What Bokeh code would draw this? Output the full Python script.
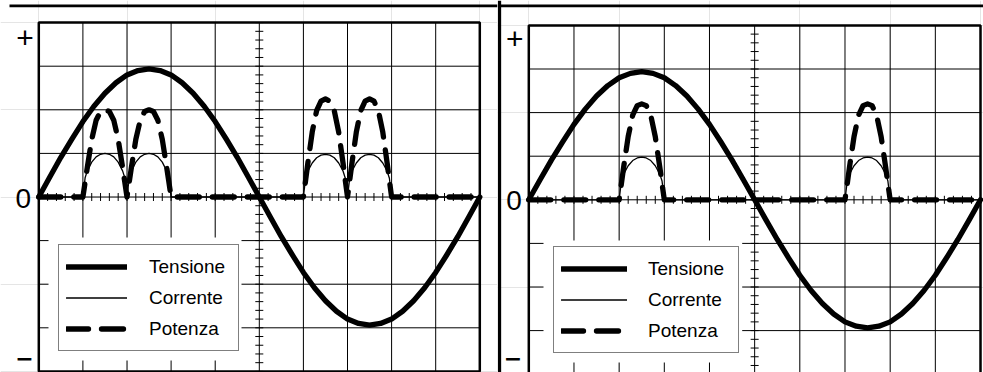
import numpy as np
from bokeh.plotting import figure
from bokeh.models import Legend, LegendItem, BoxAnnotation, Label, Span
from bokeh.layouts import row
from bokeh.embed import file_html
from bokeh.resources import INLINE

# ---------------- data (units: oscilloscope grid divisions) ----------------
T_TENSIONE = [0, 0.25, 0.5, 0.75, 1, 1.25, 1.5, 1.75, 2, 2.25, 2.5, 2.75, 3, 3.25,
              3.5, 3.75, 4, 4.25, 4.5, 4.75, 5, 5.25, 5.5, 5.75, 6, 6.25, 6.5, 6.75,
              7, 7.25, 7.5, 7.75, 8, 8.25, 8.5, 8.75, 9, 9.25, 9.5, 9.75, 10]
V_TENSIONE = [0.00, 0.46, 0.91, 1.33, 1.73, 2.08, 2.38, 2.62, 2.80, 2.90, 2.94,
              2.90, 2.80, 2.62, 2.38, 2.08, 1.73, 1.33, 0.91, 0.46, 0.00,
              -0.46, -0.91, -1.33, -1.73, -2.08, -2.38, -2.62, -2.80, -2.90, -2.94,
              -2.90, -2.80, -2.62, -2.38, -2.08, -1.73, -1.33, -0.91, -0.46, 0.00]

# left panel: current / power
T_SX = [0, 1,
        1.05, 1.1, 1.2, 1.3, 1.4, 1.5, 1.6, 1.7, 1.8, 1.9, 1.95, 2,
        2.05, 2.1, 2.2, 2.3, 2.4, 2.5, 2.6, 2.7, 2.8, 2.9, 2.95, 3,
        6,
        6.05, 6.1, 6.2, 6.3, 6.4, 6.5, 6.6, 6.7, 6.8, 6.9, 6.95, 7,
        7.05, 7.1, 7.2, 7.3, 7.4, 7.5, 7.6, 7.7, 7.8, 7.9, 7.95, 8,
        10]
I_SX = [0, 0,
        0.44, 0.60, 0.80, 0.92, 0.98, 1.00, 0.98, 0.92, 0.80, 0.60, 0.44, 0.00,
        0.44, 0.60, 0.80, 0.92, 0.98, 1.00, 0.98, 0.92, 0.80, 0.60, 0.44, 0.00,
        0,
        0.43, 0.59, 0.78, 0.90, 0.96, 0.98, 0.96, 0.90, 0.78, 0.59, 0.43, 0.00,
        0.43, 0.59, 0.78, 0.90, 0.96, 0.98, 0.96, 0.90, 0.78, 0.59, 0.43, 0.00,
        0]
P_SX = [0, 0,
        0.34, 0.68, 1.32, 1.76, 1.96, 2.00, 1.96, 1.76, 1.32, 0.68, 0.34, 0.00,
        0.34, 0.68, 1.32, 1.76, 1.96, 2.00, 1.96, 1.76, 1.32, 0.68, 0.34, 0.00,
        0,
        0.38, 0.77, 1.49, 1.98, 2.20, 2.25, 2.20, 1.98, 1.49, 0.77, 0.38, 0.00,
        0.38, 0.77, 1.49, 1.98, 2.20, 2.25, 2.20, 1.98, 1.49, 0.77, 0.38, 0.00,
        0]

# right panel: current / power
T_DX = [0, 2,
        2.05, 2.1, 2.2, 2.3, 2.4, 2.5, 2.6, 2.7, 2.8, 2.9, 2.95, 3,
        7,
        7.05, 7.1, 7.2, 7.3, 7.4, 7.5, 7.6, 7.7, 7.8, 7.9, 7.95, 8,
        10]
I_DX = [0, 0,
        0.43, 0.59, 0.78, 0.90, 0.96, 0.98, 0.96, 0.90, 0.78, 0.59, 0.43, 0.00,
        0,
        0.43, 0.59, 0.78, 0.90, 0.96, 0.98, 0.96, 0.90, 0.78, 0.59, 0.43, 0.00,
        0]
P_DX = [0, 0,
        0.37, 0.75, 1.45, 1.94, 2.16, 2.20, 2.16, 1.94, 1.45, 0.75, 0.37, 0.00,
        0,
        0.37, 0.75, 1.45, 1.94, 2.16, 2.20, 2.16, 1.94, 1.45, 0.75, 0.37, 0.00,
        0]

X_DIV = [0, 1, 2, 3, 4, 5, 6, 7, 8, 9, 10]
Y_DIV = [-4, -3, -2, -1, 0, 1, 2, 3, 4]
MINOR_STEP = 0.2
AXIS_LABELS = ["+", "0", "\u2212"]
LEGEND_LABELS = ["Tensione", "Corrente", "Potenza"]

FONT = "Liberation Sans"
H = 372


def make_panel(width, x0, dx, y0, dy, t_i, i_vals, t_p, p_vals,
               legend_box, legend_loc, legend_geom, label_pos, top_from,
               divider=None):
    def xd(px):
        return (px - x0) / dx

    def yd(py):
        return (y0 - py) / dy

    p = figure(width=width, height=H, x_range=(xd(0), xd(width)),
               y_range=(yd(H), yd(0)), x_axis_location=None, y_axis_location=None,
               toolbar_location=None, output_backend="svg", min_border=0,
               outline_line_color=None, background_fill_color="white",
               border_fill_color="white")

    # grid
    vx = X_DIV[1:-1]
    p.segment(x0=vx, y0=[Y_DIV[0]] * len(vx), x1=vx, y1=[Y_DIV[-1]] * len(vx),
              line_color="black", line_width=1)
    hy = Y_DIV[1:-1]
    p.segment(x0=[X_DIV[0]] * len(hy), y0=hy, x1=[X_DIV[-1]] * len(hy), y1=hy,
              line_color="black", line_width=1)
    xc = X_DIV[len(X_DIV) // 2]
    mx = np.round(np.arange(X_DIV[0], X_DIV[-1] + 1e-9, MINOR_STEP), 3)
    p.scatter(x=mx, y=0, marker="dash", size=8, angle=np.pi / 2,
              line_color="black", line_width=1)
    my = np.round(np.arange(Y_DIV[0], Y_DIV[-1] + 1e-9, MINOR_STEP), 3)
    p.scatter(x=xc, y=my, marker="dash", size=8, line_color="black", line_width=1)
    p.quad(left=X_DIV[0], right=X_DIV[-1], bottom=Y_DIV[0], top=Y_DIV[-1],
           fill_color=None, line_color="black", line_width=2.5)

    # curves
    rv = p.line(T_TENSIONE, V_TENSIONE, line_color="black", line_width=5.3,
                line_cap="round", line_join="round")
    ri = p.line(t_i, i_vals, line_color="black", line_width=1.3,
                line_cap="round", line_join="round")
    rp = p.line(t_p, p_vals, line_color="black", line_width=5.3,
                line_dash="22 13", line_cap="round", line_join="round")

    # white area round the legend
    l, r, t, b = legend_box
    p.add_layout(BoxAnnotation(left=xd(l), right=xd(r), top=yd(t), bottom=yd(b),
                               fill_color="white", fill_alpha=1.0,
                               line_color=None))

    gw, stand, lw = legend_geom
    legend = Legend(items=[LegendItem(label=LEGEND_LABELS[0], renderers=[rv]),
                           LegendItem(label=LEGEND_LABELS[1], renderers=[ri]),
                           LegendItem(label=LEGEND_LABELS[2], renderers=[rp])],
                    location=legend_loc, label_text_font=FONT,
                    label_text_font_size="19px", label_text_color="black",
                    glyph_width=gw, glyph_height=29, label_height=29,
                    label_width=lw, spacing=2, padding=7, label_standoff=stand,
                    margin=0, border_line_color="black", border_line_width=1.3,
                    background_fill_color="white", background_fill_alpha=1.0)
    p.add_layout(legend)

    # axis signs
    styles = [(FONT, "30px", "normal"),
              (FONT, "28px", "normal"),
              ("DejaVu Sans", "22px", "bold")]
    for txt, (px, py), (fnt, fs, fst) in zip(AXIS_LABELS, label_pos, styles):
        p.add_layout(Label(x=xd(px), y=yd(py), text=txt, text_font=fnt,
                           text_font_size=fs, text_font_style=fst,
                           text_align="center", text_baseline="middle",
                           text_color="black"))

    # page frame
    p.segment(x0=[xd(top_from)], y0=[yd(5.3)], x1=[xd(width)], y1=[yd(5.3)],
              line_color="black", line_width=2.7)
    if divider is not None:
        p.add_layout(Span(location=xd(divider), dimension="height",
                          line_color="black", line_width=3.3))
    return p


p1 = make_panel(497, 38.3, 44.1, 196.5, 43.6, T_SX, I_SX, T_SX, P_SX,
                legend_box=(48, 241, 237, 360), legend_loc=(58, 21),
                legend_geom=(61, 22, 82),
                label_pos=[(24.5, 37), (22.8, 197.5), (24, 357)], top_from=9)
p2 = make_panel(486, 31.3, 45.17, 199.3, 43.6, T_DX, I_DX, T_DX, P_DX,
                legend_box=(46, 244.7, 240, 362), legend_loc=(56, 19),
                legend_geom=(66, 21, 83),
                label_pos=[(17.3, 38), (16.5, 200), (15.5, 357)], top_from=0,
                divider=2)

layout = row(p1, p2)
open("out.html", "w").write(file_html(layout, INLINE))
